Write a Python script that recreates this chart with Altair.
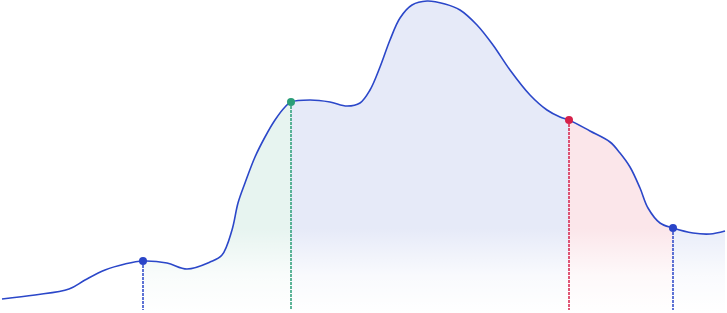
import altair as alt
import pandas as pd

# x position along the series, and the series value
xs = [2, 35, 69, 85, 105, 125, 143, 167, 187, 210, 222, 232, 238, 245, 255, 265, 275, 285, 291,
      310, 330, 347, 360, 370, 380, 390, 400, 412, 427, 445, 460, 477, 493, 510, 530, 547,
      560, 569, 590, 610, 620, 630, 640, 648, 660, 673, 693, 710, 725]
vals = [14, 18, 24, 33, 43, 49, 52, 50, 44, 51, 58, 83, 110, 130, 156, 176, 193, 206, 211,
        213, 211, 207, 210, 223, 246, 273, 295, 308, 312, 309, 303, 288, 268, 243, 218, 203,
        196, 193, 182, 171, 160, 146, 125, 105, 90, 85, 80, 79, 82]

# highlighted points and their colours
mark_x = [143, 291, 569, 673]
mark_col = ["#2a45c8", "#2a9d78", "#d6214a", "#2a45c8"]

# shaded segments between highlighted points
seg_names = ["s1", "s2", "s3", "s4"]
seg_bounds = [(143, 291), (291, 569), (569, 673), (673, 725)]
seg_fill = ["#e7f4f0", "#e6eaf8", "#fbe6ea", "#e9edf9"]

line_df = pd.DataFrame({"x": xs, "v": vals})
val_of = dict(zip(xs, vals))

rows = []
for name, (a, b) in zip(seg_names, seg_bounds):
    for x, v in zip(xs, vals):
        if a <= x <= b:
            rows.append({"x": x, "v": v, "seg": name})
area_df = pd.DataFrame(rows)

pts_df = pd.DataFrame({"x": mark_x, "v": [val_of[x] for x in mark_x], "c": mark_col})

xsc = alt.Scale(domain=[0, 727], nice=False, zero=False)
ysc = alt.Scale(domain=[0, 313], nice=False, zero=False)

areas = alt.Chart(area_df).mark_area(interpolate="catmull-rom", opacity=1).encode(
    x=alt.X("x:Q", scale=xsc, axis=None),
    y=alt.Y("v:Q", scale=ysc, axis=None, stack=None),
    color=alt.Color("seg:N", scale=alt.Scale(domain=seg_names, range=seg_fill), legend=None),
    detail="seg:N",
)

fade = alt.Chart(pd.DataFrame({"a": [0]})).mark_rect(
    color=alt.Gradient(
        gradient="linear",
        stops=[
            alt.GradientStop(color="rgba(255,255,255,0)", offset=0),
            alt.GradientStop(color="rgba(255,255,255,0.75)", offset=0.55),
            alt.GradientStop(color="rgba(255,255,255,1)", offset=1),
        ],
        x1=0, x2=0, y1=0, y2=1,
    )
).encode(x=alt.value(0), x2=alt.value(727), y=alt.value(228), y2=alt.value(313))

line = alt.Chart(line_df).mark_line(
    interpolate="catmull-rom", color="#2b47c9", strokeWidth=1.6
).encode(
    x=alt.X("x:Q", scale=xsc, axis=None),
    y=alt.Y("v:Q", scale=ysc, axis=None),
)

rules = alt.Chart(pts_df).mark_rule(strokeWidth=1.5, strokeDash=[3, 1]).encode(
    x=alt.X("x:Q", scale=xsc, axis=None),
    y=alt.Y("v:Q", scale=ysc, axis=None),
    y2=alt.datum(3),
    color=alt.Color("c:N", scale=None),
)

points = alt.Chart(pts_df).mark_point(filled=True, size=65, opacity=1).encode(
    x=alt.X("x:Q", scale=xsc, axis=None),
    y=alt.Y("v:Q", scale=ysc, axis=None),
    color=alt.Color("c:N", scale=None),
)

chart = alt.layer(areas, fade, line, rules, points).properties(
    width=727, height=313, padding=0, autosize="none"
).configure_view(stroke=None).resolve_scale(color="independent")

chart.save("out.html", embed_options={"renderer": "svg", "actions": False})
